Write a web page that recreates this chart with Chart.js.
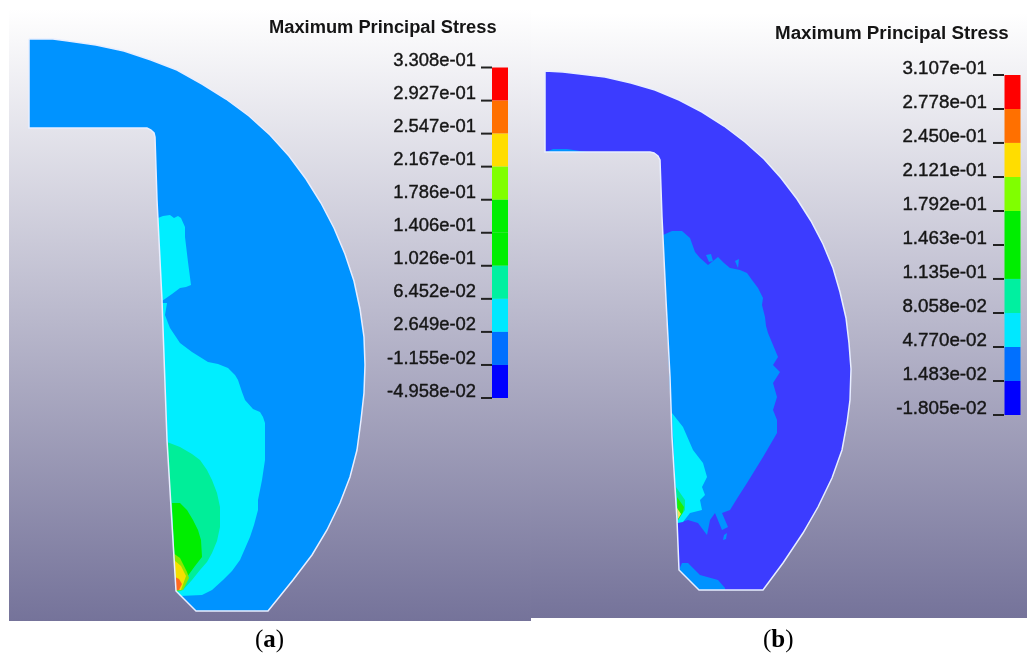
<!DOCTYPE html>
<html lang="en">
<head>
<meta charset="UTF-8" />
<title>Maximum Principal Stress</title>
<script src="https://cdn.jsdelivr.net/npm/chart.js"></script>
<style>
  html, body { margin: 0; padding: 0; background: #fff; }
  canvas { display: block; }
</style>
</head>
<body>
<canvas id="stressChart" width="1035" height="661"></canvas>
<script>
// legend values, top to bottom
const ticksA = [0.3308, 0.2927, 0.2547, 0.2167, 0.1786, 0.1406, 0.1026, 0.06452, 0.02649, -0.01155, -0.04958];
const labelsA = ["3.308e-01", "2.927e-01", "2.547e-01", "2.167e-01", "1.786e-01", "1.406e-01", "1.026e-01", "6.452e-02", "2.649e-02", "-1.155e-02", "-4.958e-02"];
const ticksB = [0.3107, 0.2778, 0.245, 0.2121, 0.1792, 0.1463, 0.1135, 0.08058, 0.0477, 0.01483, -0.01805];
const labelsB = ["3.107e-01", "2.778e-01", "2.450e-01", "2.121e-01", "1.792e-01", "1.463e-01", "1.135e-01", "8.058e-02", "4.770e-02", "1.483e-02", "-1.805e-02"];
const bandColors = ["#ff0000", "#ff7000", "#ffdd00", "#80ff00", "#00ee00", "#00ee00", "#00f0a0", "#00e8ff", "#0070ff", "#0000ff"];

// section outlines, in plot coordinates
const outlineA = [[29,39],[53,39],[68,41],[96,45],[124,51],[151,60],[177,70],[202,84],[226,99],[249,116],[270,135],[289,156],[306,179],[321,203],[334,228],[345,254],[354,281],[360,309],[364,337],[365,365],[364,393],[361,420],[357,450],[350,477],[340,503],[327,530],[312,555],[293,580],[268,611],[196,611],[176,591],[167,440],[162,300],[157,200],[155,137],[154,133],[151,130],[147,128],[29,128]];
const outlineB = [[545,71],[563,72],[580,74],[605,77],[631,83],[655,90],[679,100],[702,112],[724,126],[745,142],[764,159],[781,178],[797,199],[811,221],[823,244],[833,268],[840,292],[846,318],[849,343],[851,369],[850,400],[847,423],[842,450],[832,478],[818,507],[803,533],[783,563],[763,590],[699,590],[679,570],[677,520],[672,437],[670,377],[666,300],[662,217],[660,160],[658,156],[654,153],[650,152],[545,152]];

// contour bands of the left section
const cyanUpperA = [[158,218],[163,216],[170,215],[174,218],[178,216],[181,218],[185,227],[185,237],[188,262],[191,285],[186,287],[180,288],[172,294],[162,301]];
const cyanLowerA = [[162,303],[167,303],[165,315],[168,323],[170,328],[176,337],[180,343],[192,352],[208,362],[218,364],[228,368],[235,375],[238,380],[242,392],[245,400],[253,409],[260,412],[263,417],[265,423],[265,460],[262,480],[258,500],[258,510],[254,525],[250,537],[240,560],[232,571],[223,580],[212,590],[202,595],[180,596],[176,591],[167,440]];
const tealA = [[167,442],[180,447],[192,454],[200,460],[207,470],[212,480],[217,493],[220,507],[220,527],[217,541],[212,553],[207,562],[200,570],[192,580],[183,590],[177,592]];
const greenA = [[172,503],[180,503],[187,510],[193,520],[198,530],[201,540],[202,557],[195,566],[187,577],[180,590],[176,590]];
const limeA = [[173,553],[180,558],[187,572],[189,578],[183,590],[176,591]];
const yellowA = [[174,560],[181,566],[186,576],[181,590],[176,590]];
const redA = [[175,577],[179,579],[182,584],[179,590],[176,590]];

// contour bands of the right section
const blueB = [[663,235],[672,231],[682,231],[690,238],[695,252],[700,258],[708,265],[718,257],[724,263],[730,268],[740,270],[747,273],[752,280],[758,288],[763,298],[762,305],[765,317],[766,326],[768,333],[773,345],[778,357],[773,365],[780,372],[773,383],[777,397],[773,410],[777,420],[777,433],[770,445],[763,457],[755,470],[747,483],[738,497],[730,510],[722,513],[728,527],[722,530],[715,513],[710,520],[707,535],[698,523],[688,520],[678,523],[672,437]];
const blueTopB = [[546,152],[553,149],[567,149],[580,151],[588,152]];
const blueBottomB = [[679,570],[682,563],[688,563],[700,575],[718,580],[725,588],[725,590],[699,590]];
const blueSpeckB1 = [[706,255],[711,254],[713,261],[709,262]];
const blueSpeckB2 = [[735,261],[739,259],[738,268]];
const blueSpeckB3 = [[724,535],[727,533],[726,539],[723,540]];
const cyanB = [[672,413],[683,427],[693,450],[703,463],[707,477],[702,487],[705,495],[700,500],[702,510],[690,513],[683,522],[677,523]];
const tealB = [[676,487],[685,500],[685,510],[678,520]];
const greenB = [[677,497],[684,507],[683,512],[678,520]];
const yellowB = [[677,508],[681,514],[678,519]];

const canvas = document.getElementById("stressChart");
const ctx = canvas.getContext("2d");

function panelGradient(top, bottom) {
  const g = ctx.createLinearGradient(0, top, 0, bottom);
  g.addColorStop(0, "#ffffff");
  g.addColorStop(1, "#75739a");
  return g;
}

const toPoints = (list) => list.map(([x, y]) => ({ x, y }));

function polygon(list, color, border) {
  return {
    type: "scatter",
    showLine: true,
    fill: border ? false : "shape",
    data: toPoints(border ? list.concat([list[0]]) : list),
    backgroundColor: color,
    borderColor: border || color,
    borderWidth: border ? 1.5 : 0,
    pointRadius: 0,
    tension: 0,
  };
}

function colorBar(ticks, x, yAxisID) {
  return {
    type: "bar",
    data: bandColors.map((c, i) => ({ x, y: [ticks[i + 1], ticks[i]] })),
    backgroundColor: bandColors,
    barThickness: 16,
    grouped: false,
    inflateAmount: 0,
    yAxisID,
  };
}

function tickDashes(ticks, x, yAxisID) {
  return {
    type: "scatter",
    data: ticks.map((y) => ({ x, y })),
    pointStyle: "line",
    pointRadius: 5.5,
    pointBorderWidth: 2,
    pointBorderColor: "#222",
    yAxisID,
  };
}

// value axis whose values land on the given pixel rows of the full-height plot
function legendAxis(ticks, labels, topPx, bottomPx, labelX, fontSize) {
  const perPx = (ticks[0] - ticks[ticks.length - 1]) / (bottomPx - topPx);
  return {
    type: "linear",
    position: { x: labelX },
    min: ticks[ticks.length - 1] - (661 - bottomPx) * perPx,
    max: ticks[0] + topPx * perPx,
    grid: { display: false },
    border: { display: false },
    afterBuildTicks: (scale) => { scale.ticks = ticks.map((value) => ({ value })); },
    afterFit: (scale) => {
      scale.paddingTop = scale.paddingBottom = scale.paddingLeft = scale.paddingRight = 0;
    },
    ticks: {
      z: 1,
      autoSkip: false,
      maxRotation: 0,
      labelOffset: -6.5,
      color: "#151515",
      textStrokeColor: "#151515",
      textStrokeWidth: 0.4,
      font: { family: "Liberation Sans", size: fontSize },
      callback: (v, i) => labels[i],
    },
  };
}

// titles and sub-figure captions
const textPlugin = {
  id: "panelText",
  afterDraw(chart) {
    const { x, y } = chart.scales;
    const c = chart.ctx;
    c.save();
    c.fillStyle = "#151515";
    c.textBaseline = "middle";
    c.font = "bold 18.3px 'Liberation Sans'";
    c.fillText("Maximum Principal Stress", x.getPixelForValue(269), y.getPixelForValue(28));
    c.font = "bold 18.8px 'Liberation Sans'";
    c.fillText("Maximum Principal Stress", x.getPixelForValue(775), y.getPixelForValue(34));
    c.textBaseline = "alphabetic";
    [["a", 255, 647], ["b", 763, 647]].forEach(([letter, px, py]) => {
      let cx = x.getPixelForValue(px);
      const base = y.getPixelForValue(py);
      c.fillStyle = "#000";
      c.font = "25px 'Liberation Serif'";
      c.fillText("(", cx, base);
      cx += c.measureText("(").width;
      c.font = "bold 25px 'Liberation Serif'";
      c.fillText(letter, cx, base);
      cx += c.measureText(letter).width;
      c.font = "25px 'Liberation Serif'";
      c.fillText(")", cx, base);
    });
    c.restore();
  },
};

const datasets = [
  polygon([[9,9],[531,9],[531,621],[9,621]], panelGradient(9, 621)),
  polygon([[531,13],[1027,13],[1027,618],[531,618]], panelGradient(13, 618)),
  polygon(outlineA, "#0093ff"),
  polygon(cyanUpperA, "#00eeff"),
  polygon(cyanLowerA, "#00eeff"),
  polygon(tealA, "#00ee99"),
  polygon(greenA, "#00ee00"),
  polygon(limeA, "#88e800"),
  polygon(yellowA, "#f5e000"),
  polygon(redA, "#ff6a20"),
  polygon(outlineA, "transparent", "#e8eeff"),
  polygon(outlineB, "#3c3cff"),
  polygon(blueB, "#0093ff"),
  polygon(blueTopB, "#0093ff"),
  polygon(blueBottomB, "#0093ff"),
  polygon(blueSpeckB1, "#0093ff"),
  polygon(blueSpeckB2, "#0093ff"),
  polygon(blueSpeckB3, "#0093ff"),
  polygon(cyanB, "#00eeff"),
  polygon(tealB, "#00ee99"),
  polygon(greenB, "#22ee00"),
  polygon(yellowB, "#f5e060"),
  polygon(outlineB, "transparent", "#e8eeff"),
  colorBar(ticksA, 500, "yA"),
  colorBar(ticksB, 1012.5, "yB"),
  tickDashes(ticksA, 486.5, "yA"),
  tickDashes(ticksB, 998.5, "yB"),
];
// later entries paint on top
datasets.forEach((d, i) => { d.order = -i; });

new Chart(ctx, {
  type: "scatter",
  data: { datasets },
  plugins: [textPlugin],
  options: {
    responsive: false,
    animation: false,
    layout: { padding: 0, autoPadding: false },
    plugins: {
      legend: { display: false },
      tooltip: { enabled: false },
      title: { display: false },
    },
    events: [],
    scales: {
      x: { type: "linear", min: 0, max: 1035, offset: false, display: false },
      y: { type: "linear", min: 0, max: 661, reverse: true, display: false },
      yA: legendAxis(ticksA, labelsA, 67.5, 398, 476, 18.4),
      yB: legendAxis(ticksB, labelsB, 75, 415, 987, 18.8),
    },
  },
});
</script>
</body>
</html>
